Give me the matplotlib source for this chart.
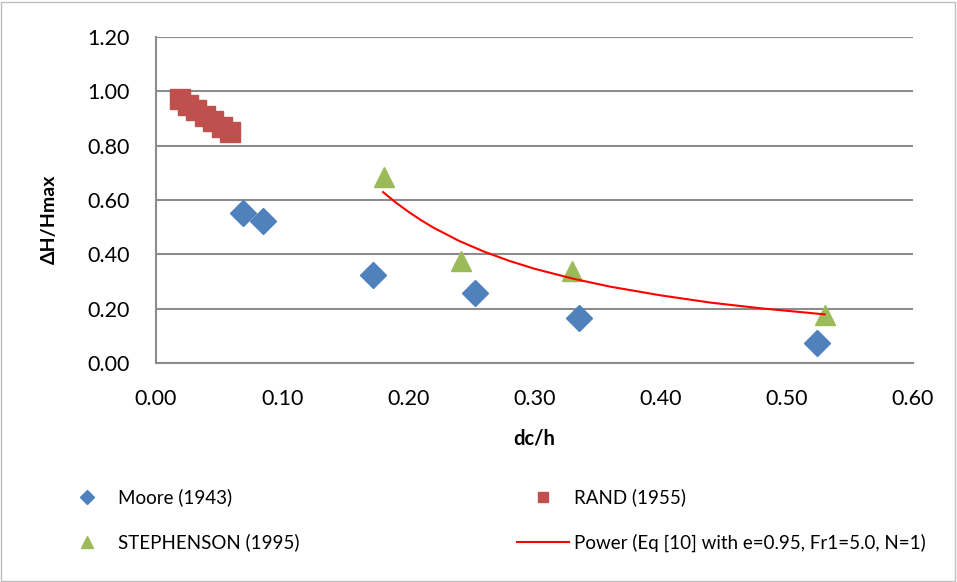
import matplotlib.pyplot as plt
from matplotlib.patches import Rectangle

# data
moore_x = [0.069, 0.085, 0.172, 0.253, 0.335, 0.524]
moore_y = [0.551, 0.524, 0.323, 0.259, 0.165, 0.073]

rand_x = [0.019, 0.025, 0.032, 0.039, 0.045, 0.052, 0.059]
rand_y = [0.97, 0.95, 0.93, 0.91, 0.89, 0.87, 0.85]

steph_x = [0.181, 0.2415, 0.330, 0.5305]
steph_y = [0.685, 0.377, 0.340, 0.177]

power_x = [0.18, 0.19, 0.20, 0.21, 0.22, 0.24, 0.26, 0.28, 0.30, 0.33, 0.36, 0.40, 0.44, 0.48, 0.53]
power_y = [0.629, 0.591, 0.557, 0.526, 0.498, 0.450, 0.410, 0.376, 0.347, 0.311, 0.281,
           0.249, 0.222, 0.201, 0.179]

xticks = [0.0, 0.1, 0.2, 0.3, 0.4, 0.5, 0.6]
yticks = [0.0, 0.2, 0.4, 0.6, 0.8, 1.0, 1.2]

plt.rcParams['font.family'] = ['Lato', 'DejaVu Sans']

fig = plt.figure(figsize=(9.57, 5.82), dpi=100)
ax = fig.add_axes([0.163, 0.3763, 0.791, 0.5601])

grid_c = '#8c8c8c'
ax.grid(axis='y', color=grid_c, lw=1.5)
ax.set_axisbelow(True)

m1, = ax.plot(moore_x, moore_y, 'D', color='#4F81BD', ms=13, ls='none', label='Moore (1943)')
m2, = ax.plot(rand_x, rand_y, 's', color='#C0504D', ms=14, ls='none', label='RAND (1955)')
m3, = ax.plot(steph_x, steph_y, '^', color='#9BBB59', ms=15, ls='none', label='STEPHENSON (1995)')
m4, = ax.plot(power_x, power_y, '-', color='#FF0000', lw=1.5,
              label='Power (Eq [10] with e=0.95, Fr1=5.0, N=1)')

ax.set_xlim(0, 0.6)
ax.set_ylim(0, 1.2)
ax.set_xticks(xticks)
ax.set_yticks(yticks)
ax.set_xticklabels(['%.2f' % v for v in xticks], fontsize=15.5)
ax.set_yticklabels(['%.2f' % v for v in yticks], fontsize=15.5)
ax.tick_params(axis='x', length=0, pad=19)
ax.tick_params(axis='y', length=0, pad=19)

for s in ['top', 'right']:
    ax.spines[s].set_visible(False)
for s in ['left', 'bottom']:
    ax.spines[s].set_color(grid_c)
    ax.spines[s].set_linewidth(1.5)

ax.set_xlabel('dc/h', fontsize=14.5, fontweight='bold', labelpad=14)
ax.set_ylabel('ΔH/Hmax', fontsize=14, fontweight='bold')
ax.yaxis.set_label_coords(-0.129, 0.44)

fig.legend(handles=[m1, m3, m2, m4], ncol=2, loc='center left',
           bbox_to_anchor=(61 / 957, 0.1065),
           frameon=False, fontsize=13.5, markerscale=0.55, labelspacing=1.45,
           handlelength=2.77, handletextpad=0.27, columnspacing=11.6,
           borderpad=0, borderaxespad=0)

fig.patches.append(Rectangle((0.001, 0.002), 0.997, 0.995, transform=fig.transFigure,
                             fill=False, ec='#bfbfbf', lw=1))

fig.savefig('out.png', dpi=100)
